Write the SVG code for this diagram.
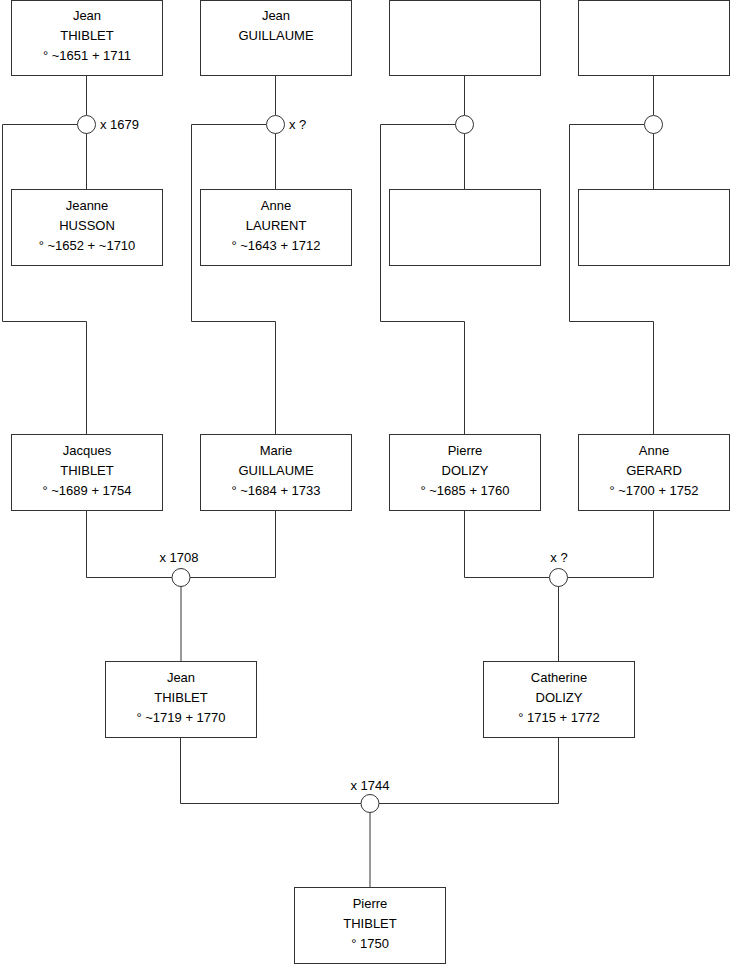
<svg xmlns="http://www.w3.org/2000/svg" width="740" height="975" viewBox="0 0 740 975">
<style>
.box{fill:#fff;stroke:#333;stroke-width:1}
.m{fill:#fff;stroke:#333;stroke-width:1}
.c{fill:none;stroke:#333;stroke-width:1}
text{font-family:"Liberation Sans",Arial,sans-serif;font-size:13px;fill:#000}
.t{text-anchor:middle}
</style>
<rect width="740" height="975" fill="#fff"/>
<g id="connectors">
<path class="c" d="M86.5 75.5V115 M86.5 133V189.5 M77.5 124.5H2.5V321.5H86.5V434.5"/>
<path class="c" d="M275.5 75.5V115 M275.5 133V189.5 M266.5 124.5H191.5V321.5H275.5V434.5"/>
<path class="c" d="M464.5 75.5V115 M464.5 133V189.5 M455.5 124.5H380.5V321.5H464.5V434.5"/>
<path class="c" d="M653.5 75.5V115 M653.5 133V189.5 M644.5 124.5H569.5V321.5H653.5V434.5"/>
<path class="c" d="M86.5 510.5V577.5H172 M190 577.5H275.5V510.5 M181 586V661.5"/>
<path class="c" d="M464.5 510.5V577.5H549 M567.5 577.5H653.5V510.5 M558.5 586V661.5"/>
<path class="c" d="M180.5 737.5V803.5H361 M379 803.5H558.5V737.5 M370 812V887.5"/>
</g>
<g id="m1"><circle class="m" cx="86.5" cy="124.5" r="9"/><text x="100" y="129">x 1679</text></g>
<g id="m2"><circle class="m" cx="275.5" cy="124.5" r="9"/><text x="289" y="129">x ?</text></g>
<g id="m3"><circle class="m" cx="464.5" cy="124.5" r="9"/></g>
<g id="m4"><circle class="m" cx="653.5" cy="124.5" r="9"/></g>
<g id="m5"><circle class="m" cx="181" cy="577.5" r="9"/><text class="t" x="179" y="562">x 1708</text></g>
<g id="m6"><circle class="m" cx="558.5" cy="577.5" r="9"/><text class="t" x="559" y="562">x ?</text></g>
<g id="m7"><circle class="m" cx="370" cy="803.5" r="9"/><text class="t" x="370" y="790">x 1744</text></g>

<g id="n1"><rect class="box" x="11.5" y="0.5" width="151" height="75"/><text class="t" x="87" y="20">Jean</text><text class="t" x="87" y="40">THIBLET</text><text class="t" x="87" y="60">° ~1651 + 1711</text></g>
<g id="n2"><rect class="box" x="200.5" y="0.5" width="151" height="75"/><text class="t" x="276" y="20">Jean</text><text class="t" x="276" y="40">GUILLAUME</text></g>
<g id="n3"><rect class="box" x="389.5" y="0.5" width="151" height="75"/></g>
<g id="n4"><rect class="box" x="578.5" y="0.5" width="151" height="75"/></g>

<g id="n5"><rect class="box" x="11.5" y="189.5" width="151" height="76"/><text class="t" x="87" y="210">Jeanne</text><text class="t" x="87" y="230">HUSSON</text><text class="t" x="87" y="250">° ~1652 + ~1710</text></g>
<g id="n6"><rect class="box" x="200.5" y="189.5" width="151" height="76"/><text class="t" x="276" y="210">Anne</text><text class="t" x="276" y="230">LAURENT</text><text class="t" x="276" y="250">° ~1643 + 1712</text></g>
<g id="n7"><rect class="box" x="389.5" y="189.5" width="151" height="76"/></g>
<g id="n8"><rect class="box" x="578.5" y="189.5" width="151" height="76"/></g>

<g id="n9"><rect class="box" x="11.5" y="434.5" width="151" height="76"/><text class="t" x="87" y="455">Jacques</text><text class="t" x="87" y="475">THIBLET</text><text class="t" x="87" y="495">° ~1689 + 1754</text></g>
<g id="n10"><rect class="box" x="200.5" y="434.5" width="151" height="76"/><text class="t" x="276" y="455">Marie</text><text class="t" x="276" y="475">GUILLAUME</text><text class="t" x="276" y="495">° ~1684 + 1733</text></g>
<g id="n11"><rect class="box" x="389.5" y="434.5" width="151" height="76"/><text class="t" x="465" y="455">Pierre</text><text class="t" x="465" y="475">DOLIZY</text><text class="t" x="465" y="495">° ~1685 + 1760</text></g>
<g id="n12"><rect class="box" x="578.5" y="434.5" width="151" height="76"/><text class="t" x="654" y="455">Anne</text><text class="t" x="654" y="475">GERARD</text><text class="t" x="654" y="495">° ~1700 + 1752</text></g>

<g id="n13"><rect class="box" x="105.5" y="661.5" width="151" height="76"/><text class="t" x="181" y="682">Jean</text><text class="t" x="181" y="702">THIBLET</text><text class="t" x="181" y="722">° ~1719 + 1770</text></g>
<g id="n14"><rect class="box" x="483.5" y="661.5" width="151" height="76"/><text class="t" x="559" y="682">Catherine</text><text class="t" x="559" y="702">DOLIZY</text><text class="t" x="559" y="722">° 1715 + 1772</text></g>

<g id="n15"><rect class="box" x="294.5" y="887.5" width="151" height="76"/><text class="t" x="370" y="908">Pierre</text><text class="t" x="370" y="928">THIBLET</text><text class="t" x="370" y="948">° 1750</text></g>
</svg>
